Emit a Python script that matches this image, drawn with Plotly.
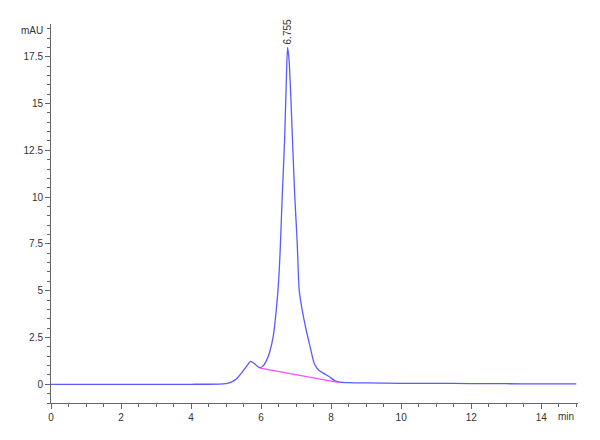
import plotly.graph_objects as go

# Chromatogram signal (min, mAU)
time_min = [0, 1, 2, 3, 4, 4.8, 5.0, 5.15, 5.3, 5.45, 5.6, 5.7, 5.8, 5.9, 5.97,
            6.05, 6.15, 6.25, 6.35, 6.43, 6.5, 6.55, 6.6, 6.67, 6.72, 6.755,
            6.8, 6.85, 6.9, 6.96, 7.03, 7.09, 7.19, 7.3, 7.4, 7.52, 7.65, 7.8,
            7.95, 8.1, 8.25, 8.5, 9, 10, 11, 12, 13, 14, 15]
signal_mau = [0, 0, 0, 0, 0, 0.01, 0.04, 0.12, 0.3, 0.62, 1.0, 1.22, 1.12, 0.95, 0.89,
              0.97, 1.25, 1.75, 2.6, 3.9, 5.5, 7.4, 9.9, 13.0, 16.2, 18.0,
              17.3, 15.3, 12.9, 10.1, 7.6, 5.0, 3.8, 2.8, 2.0, 1.1, 0.75, 0.57,
              0.4, 0.2, 0.12, 0.09, 0.07, 0.05, 0.05, 0.04, 0.03, 0.02, 0.02]

# Integration baseline
baseline_x = [5.97, 8.24]
baseline_y = [0.86, 0.09]

# Peak label
peak_x = 6.755
peak_y = 18.0
peak_label = "6.755"

x_tickvals = [0, 2, 4, 6, 8, 10, 12, 14]
y_tickvals = [0, 2.5, 5, 7.5, 10, 12.5, 15, 17.5]
y_ticktext = ["0", "2.5", "5", "7.5", "10", "12.5", "15", "17.5"]

fig = go.Figure()
fig.add_trace(go.Scatter(x=time_min, y=signal_mau, mode="lines",
                         line=dict(color="rgb(90,90,255)", width=1.3, shape="spline", smoothing=0.6),
                         hoverinfo="skip", showlegend=False))
fig.add_trace(go.Scatter(x=baseline_x, y=baseline_y, mode="lines",
                         line=dict(color="rgb(255,80,255)", width=1.3),
                         hoverinfo="skip", showlegend=False))

fig.add_annotation(x=peak_x, y=peak_y, text=peak_label, textangle=-90,
                   showarrow=False, xanchor="center", yanchor="bottom", yshift=1,
                   font=dict(family="Liberation Sans, Arial", size=10, color="#333"))
fig.add_annotation(x=0, y=1, xref="paper", yref="paper", text="mAU",
                   showarrow=False, xanchor="right", yanchor="middle", xshift=-6, yshift=-6,
                   font=dict(family="Liberation Sans, Arial", size=10, color="#333"))
fig.add_annotation(x=1, y=0, xref="paper", yref="paper", text="min",
                   showarrow=False, xanchor="right", yanchor="top", xshift=-2, yshift=-6,
                   font=dict(family="Liberation Sans, Arial", size=10, color="#333"))

axis_common = dict(showgrid=False, zeroline=False, showline=True, linecolor="#666",
                   linewidth=1, ticks="outside", ticklen=5, tickcolor="#666", automargin=False,
                   tickfont=dict(family="Liberation Sans, Arial", size=10, color="#333"))

fig.update_xaxes(range=[0, 15.05], tickvals=x_tickvals,
                 minor=dict(dtick=0.5, tick0=0, ticks="outside", ticklen=3, tickcolor="#666"),
                 **axis_common)
fig.update_yaxes(range=[-1, 19.25], tickvals=y_tickvals, ticktext=y_ticktext,
                 minor=dict(dtick=0.5, tick0=0, ticks="outside", ticklen=3, tickcolor="#666"),
                 **axis_common)

fig.update_layout(width=600, height=440, plot_bgcolor="white", paper_bgcolor="white",
                  margin=dict(l=43, r=30, t=16, b=45), showlegend=False)

fig.write_html("out.html")
